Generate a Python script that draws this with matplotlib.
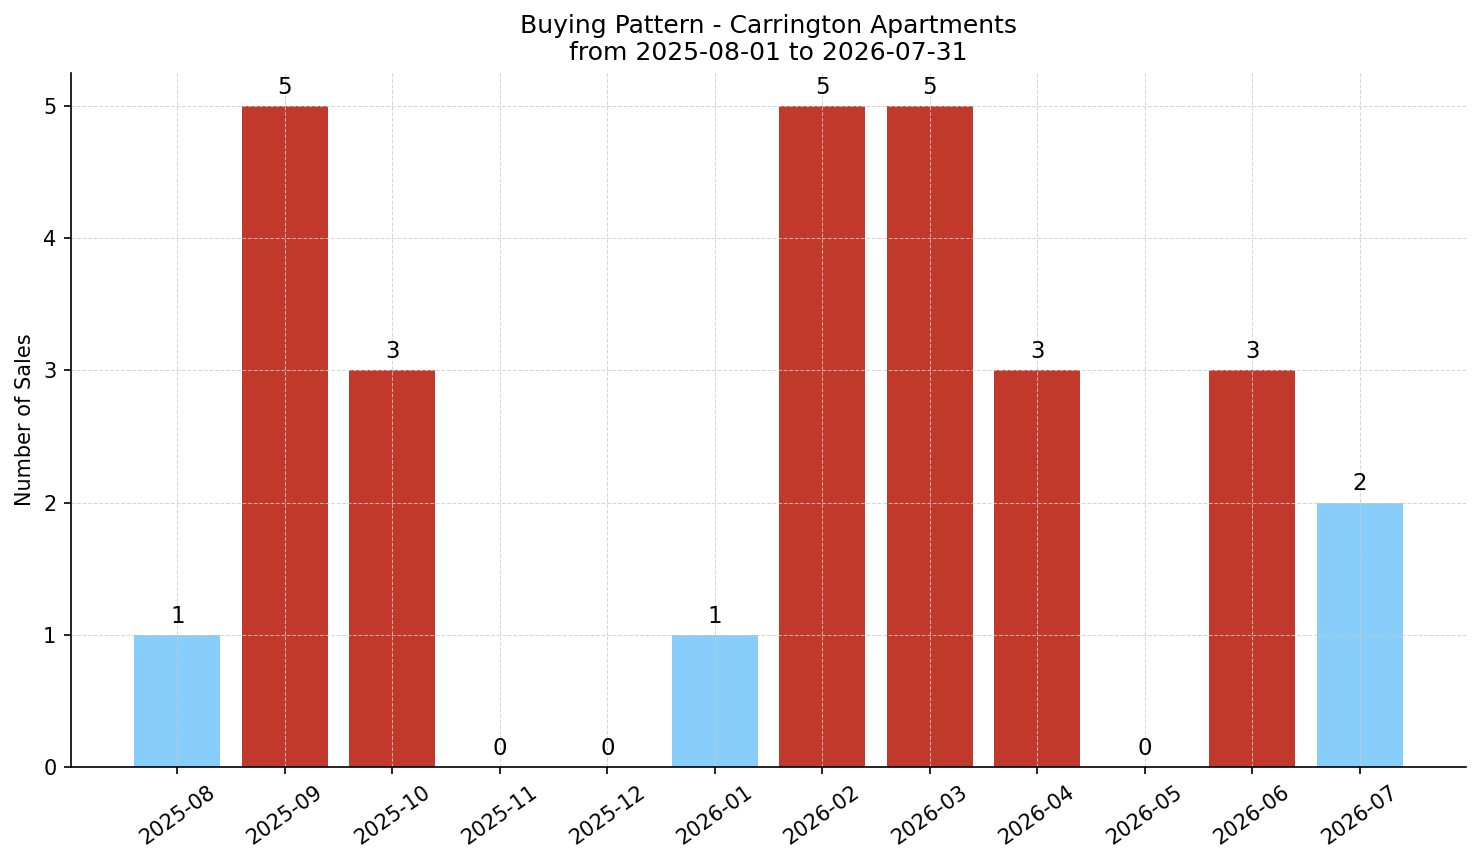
import matplotlib
matplotlib.use("Agg")
import matplotlib.pyplot as plt

months = ["2025-08", "2025-09", "2025-10", "2025-11", "2025-12", "2026-01",
          "2026-02", "2026-03", "2026-04", "2026-05", "2026-06", "2026-07"]
sales = [1, 5, 3, 0, 0, 1, 5, 5, 3, 0, 3, 2]
threshold = 3
high_color = "#c0392b"
low_color = "#87cefa"

W, H = 1481, 863
dpi = 150
fig = plt.figure(figsize=(W / dpi, H / dpi), dpi=dpi)
ax = fig.add_axes([71 / W, 1 - 767 / H, (1466 - 71) / W, (767 - 73) / H])

colors = [high_color if v >= threshold else low_color for v in sales]
x = list(range(len(months)))
bars = ax.bar(x, sales, color=colors, width=0.8)
for xi, v in zip(x, sales):
    ax.annotate(str(v), (xi, v), xytext=(0, 3.5), textcoords="offset points",
                ha="center", va="bottom", fontsize=11)

ax.set_xticks(x)
ax.set_xticklabels(months, rotation=35, ha="center", fontsize=10)
ax.tick_params(axis="y", labelsize=10)
ax.set_ylabel("Number of Sales", fontsize=10)
ax.set_title("Buying Pattern - Carrington Apartments\nfrom 2025-08-01 to 2026-07-31", fontsize=12)
ax.grid(True, linestyle="--", linewidth=0.5, color="#cccccc", alpha=0.8)
ax.spines["top"].set_visible(False)
ax.spines["right"].set_visible(False)

fig.savefig("out.png", dpi=dpi)
